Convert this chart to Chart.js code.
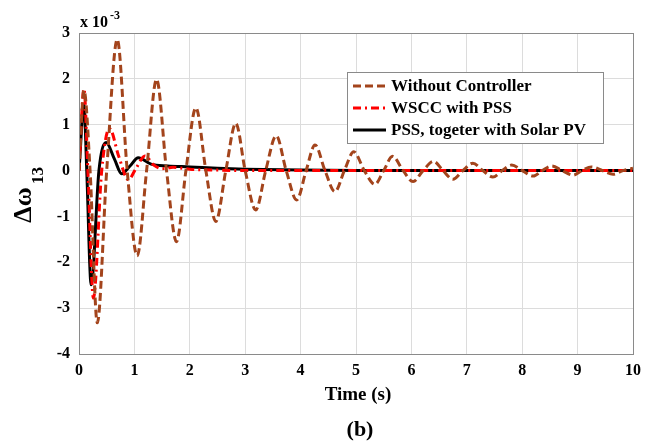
<!DOCTYPE html>
<html>
<head>
<meta charset="utf-8">
<style>
  html, body { margin: 0; padding: 0; background: #fff; }
  #wrap { width: 652px; height: 444px; position: relative; }
</style>
<script src="https://cdn.jsdelivr.net/npm/chart.js@4.4.0/dist/chart.umd.min.js"></script>
</head>
<body>
<div id="wrap"><canvas id="speedDev" width="652" height="444"></canvas></div>
<script>
// speed deviation of machine 13, values in units of 1e-3
const noCtrlT = [0, 0.09, 0.2, 0.33, 0.5, 0.69, 0.87, 1.05, 1.22, 1.40, 1.58, 1.76, 1.93, 2.11, 2.29, 2.47, 2.65, 2.83, 3.0, 3.19, 3.37, 3.56, 3.74, 3.93, 4.1, 4.26, 4.44, 4.62, 4.79, 4.96, 5.15, 5.34, 5.5, 5.66, 5.85, 6.03, 6.21, 6.40, 6.57, 6.75, 6.93, 7.11, 7.29, 7.47, 7.64, 7.81, 8.0, 8.2, 8.36, 8.53, 8.72, 8.92, 9.08, 9.25, 9.45, 9.64, 9.82, 10];
const noCtrlV = [0, 1.75, 0, -3.32, 0, 2.86, 0, -1.86, 0, 1.99, 0, -1.55, 0, 1.37, 0, -1.11, 0, 1.03, 0, -0.86, 0, 0.76, 0, -0.64, 0, 0.56, 0, -0.46, 0, 0.41, 0, -0.30, 0, 0.31, 0, -0.24, 0, 0.20, 0, -0.19, 0, 0.16, 0, -0.14, 0, 0.12, 0, -0.12, 0, 0.10, 0, -0.10, 0, 0.08, 0, -0.08, 0, 0.05];

const pssT = [0, 0.09, 0.16, 0.26, 0.41, 0.55, 0.72, 0.89, 1.03, 1.19, 1.35, 1.5, 1.7, 2.0, 2.5, 3.0, 10];
const pssV = [0, 1.78, 0, -2.78, 0, 0.92, 0.3, -0.2, 0.05, 0.32, 0.12, 0.04, 0.07, 0.03, 0.01, 0, 0];

const pvT = [0, 0.09, 0.14, 0.22, 0.36, 0.49, 0.64, 0.77, 0.92, 1.07, 1.3, 1.6, 2.0, 2.5, 3.0, 4.0, 5.0, 10];
const pvV = [0, 1.43, 0, -2.49, 0, 0.61, 0.25, -0.07, 0.1, 0.28, 0.14, 0.1, 0.08, 0.05, 0.03, 0.01, 0, 0];

const seriesNames = ['Without Controller', 'WSCC with PSS', 'PSS, togeter with Solar PV'];
const xTicks = [0, 1, 2, 3, 4, 5, 6, 7, 8, 9, 10];
const yTicks = [-4, -3, -2, -1, 0, 1, 2, 3];

function pts(ts, vs) {
  return ts.map((t, i) => ({ x: t, y: vs[i] }));
}

const serif = "'Liberation Serif', 'Times New Roman', serif";
const lineStyles = [
  { color: '#a3441c', dash: [8, 4] },
  { color: '#ff0000', dash: [8, 4, 2, 4] },
  { color: '#000000', dash: [] }
];

// axis titles, exponent label, caption and the boxed legend
const decorations = {
  id: 'decorations',
  afterDraw(chart) {
    const ctx = chart.ctx;
    const a = chart.chartArea;
    ctx.save();
    ctx.fillStyle = '#000';
    ctx.textBaseline = 'alphabetic';

    // exponent
    ctx.font = 'bold 16px ' + serif;
    ctx.textAlign = 'left';
    ctx.fillText('x 10', 80, 27);
    ctx.font = 'bold 12px ' + serif;
    ctx.fillText('-3', 110, 19);

    // x title and caption
    ctx.textAlign = 'center';
    ctx.font = 'bold 19px ' + serif;
    ctx.fillText('Time (s)', (a.left + a.right) / 2 + 2, 400);
    ctx.font = 'bold 22px ' + serif;
    ctx.fillText('(b)', (a.left + a.right) / 2 + 4, 436);

    // y title
    ctx.save();
    ctx.translate(31, 205);
    ctx.rotate(-Math.PI / 2);
    ctx.textAlign = 'center';
    ctx.font = 'bold 26px ' + serif;
    ctx.fillText('\u0394\u03c9', 0, 0);
    ctx.font = 'bold 17px ' + serif;
    ctx.textAlign = 'left';
    ctx.fillText('13', 21, 12);
    ctx.restore();

    // legend
    const bx = 347, by = 72, bw = 256, bh = 71;
    ctx.fillStyle = '#fff';
    ctx.fillRect(bx, by, bw, bh);
    ctx.strokeStyle = '#8a8a8a';
    ctx.lineWidth = 1;
    ctx.strokeRect(bx + 0.5, by + 0.5, bw, bh);
    const rows = [86, 108, 130];
    seriesNames.forEach((name, i) => {
      const s = lineStyles[i];
      ctx.strokeStyle = s.color;
      ctx.lineWidth = 3;
      ctx.setLineDash(s.dash);
      ctx.beginPath();
      ctx.moveTo(353, rows[i]);
      ctx.lineTo(386, rows[i]);
      ctx.stroke();
      ctx.setLineDash([]);
      ctx.fillStyle = '#000';
      ctx.font = 'bold 17px ' + serif;
      ctx.textAlign = 'left';
      ctx.textBaseline = 'middle';
      ctx.fillText(name, 391, rows[i] + 1);
    });

    // plot box
    ctx.strokeStyle = '#8a8a8a';
    ctx.lineWidth = 1;
    ctx.strokeRect(a.left + 0.5, a.top + 0.5, a.right - a.left, a.bottom - a.top);
    ctx.restore();
  }
};

new Chart(document.getElementById('speedDev').getContext('2d'), {
  type: 'line',
  data: {
    datasets: [
      { label: seriesNames[0], data: pts(noCtrlT, noCtrlV) },
      { label: seriesNames[1], data: pts(pssT, pssV) },
      { label: seriesNames[2], data: pts(pvT, pvV) }
    ].map((d, i) => Object.assign(d, {
      borderColor: lineStyles[i].color,
      borderDash: lineStyles[i].dash,
      borderWidth: 3,
      pointRadius: 0,
      fill: false,
      cubicInterpolationMode: 'monotone'
    }))
  },
  options: {
    responsive: false,
    animation: false,
    layout: { padding: { left: 0, top: 33, right: 19, bottom: 0 } },
    plugins: { legend: { display: false }, tooltip: { enabled: false } },
    scales: {
      x: {
        type: 'linear',
        min: 0,
        max: 10,
        afterBuildTicks: s => { s.ticks = xTicks.map(v => ({ value: v })); },
        afterFit: s => { s.height = 90; },
        grid: { color: '#dcdcdc', drawTicks: false },
        border: { display: false },
        ticks: { color: '#000', padding: 7, maxRotation: 0, font: { family: serif, size: 16, weight: 'bold' } }
      },
      y: {
        type: 'linear',
        min: -4,
        max: 3,
        afterBuildTicks: s => { s.ticks = yTicks.map(v => ({ value: v })); },
        afterFit: s => { s.width = 79; },
        grid: { color: '#dcdcdc', drawTicks: false },
        border: { display: false },
        ticks: { color: '#000', padding: 9, font: { family: serif, size: 16, weight: 'bold' } }
      }
    }
  },
  plugins: [decorations]
});
</script>
</body>
</html>
